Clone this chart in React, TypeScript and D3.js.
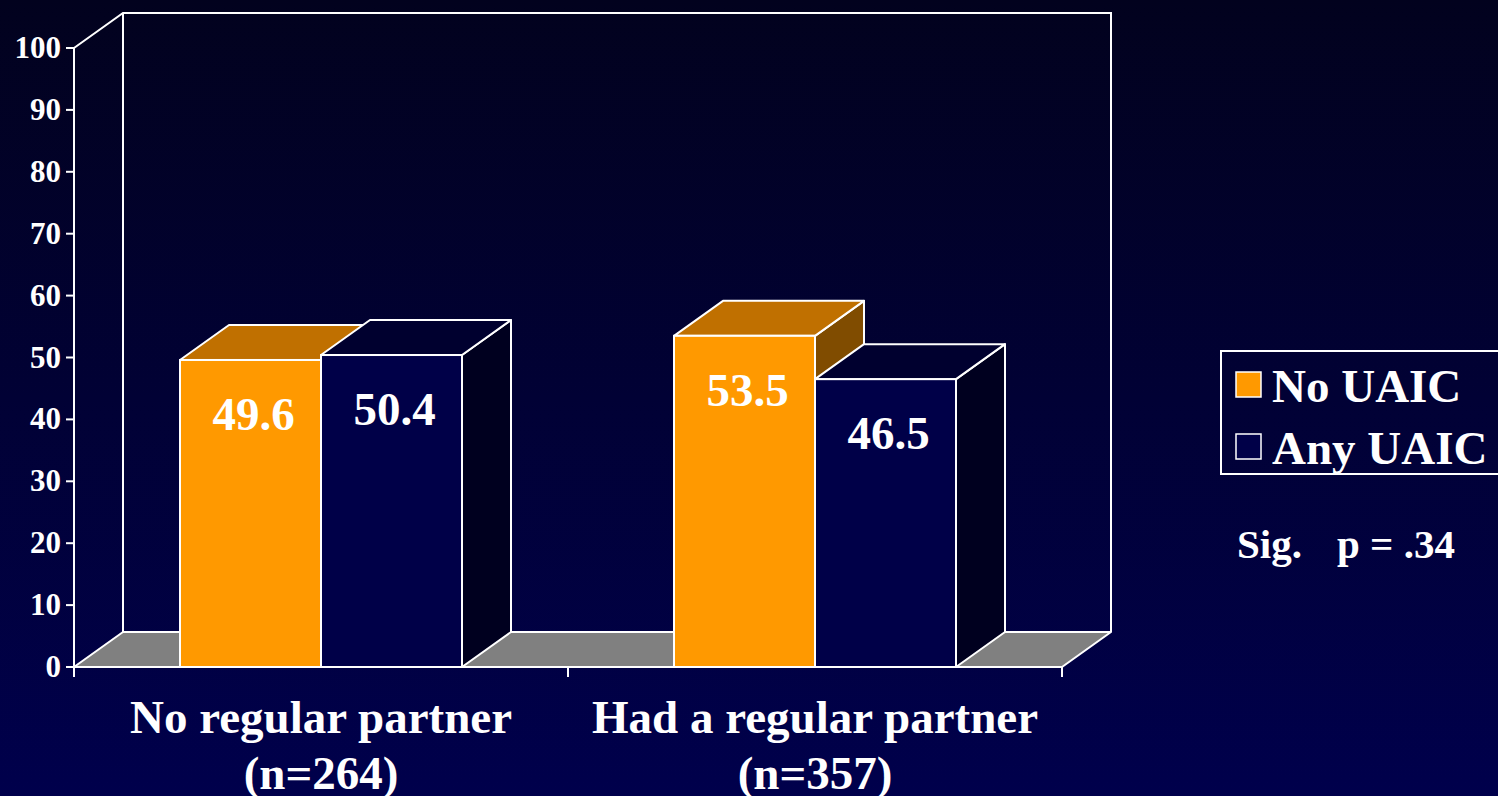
import React from "react";
import * as d3 from "d3";

const categories = ["No regular partner", "Had a regular partner"];
const categorySub = ["(n=264)", "(n=357)"];
const seriesNames = ["No UAIC", "Any UAIC"];
const noUAIC = [49.6, 53.5];
const anyUAIC = [50.4, 46.5];
const yTicks = [0, 10, 20, 30, 40, 50, 60, 70, 80, 90, 100];

const W = 1498, H = 796;
const FONT = "'Liberation Serif', 'Times New Roman', serif";
const DX = 49, DY = -35;

export default function App() {
  const x0 = 74, x1 = 1062;
  const y = d3.scaleLinear().domain([0, 100]).range([667, 48]);
  const band = d3.scaleBand().domain(categories).range([x0, x1]).paddingInner(0).paddingOuter(0);
  const bw = 141;
  const series = [
    { name: seriesNames[0], values: noUAIC, front: "#FF9900", top: "#C07000", side: "#804C00" },
    { name: seriesNames[1], values: anyUAIC, front: "#000048", top: "#00002F", side: "#00001F" },
  ];
  const stroke = "#ffffff";
  const sw = 2;
  const y0 = y(0);

  const bars: React.ReactNode[] = [];
  categories.forEach((c, ci) => {
    const cx = (band(c) as number) + band.bandwidth() / 2;
    series.forEach((s, si) => {
      const left = cx - bw + si * bw;
      const right = left + bw;
      const top = y(s.values[ci]);
      bars.push(
        <g key={`${ci}-${si}`}>
          <polygon points={`${right},${top} ${right + DX},${top + DY} ${right + DX},${y0 + DY} ${right},${y0}`} fill={s.side} stroke={stroke} strokeWidth={sw} strokeLinejoin="round" />
          <polygon points={`${left},${top} ${left + DX},${top + DY} ${right + DX},${top + DY} ${right},${top}`} fill={s.top} stroke={stroke} strokeWidth={sw} strokeLinejoin="round" />
          <rect x={left} y={top} width={bw} height={y0 - top} fill={s.front} stroke={stroke} strokeWidth={sw} />
        </g>
      );
    });
  });

  const labels: React.ReactNode[] = [];
  categories.forEach((c, ci) => {
    const cx = (band(c) as number) + band.bandwidth() / 2;
    series.forEach((s, si) => {
      const left = cx - bw + si * bw;
      const top = y(s.values[ci]);
      labels.push(
        <text key={`l${ci}-${si}`} x={left + bw / 2 + 3} y={top + 70} textAnchor="middle" fill="#fff" fontFamily={FONT} fontWeight="bold" fontSize={47}>
          {s.values[ci].toFixed(1)}
        </text>
      );
    });
  });

  const floorPts = (a: number, b: number) => `${a},${y0} ${a + DX},${y0 + DY} ${b + DX},${y0 + DY} ${b},${y0}`;

  return (
    <svg width={W} height={H} style={{ position: "absolute", left: 0, top: 0 }}>
      <defs>
        <linearGradient id="bg" x1="0" y1="0" x2="0" y2="1">
          <stop offset="0" stopColor="#02021E" />
          <stop offset="1" stopColor="#00004C" />
        </linearGradient>
      </defs>
      <rect x={0} y={0} width={W} height={H} fill="url(#bg)" />
      <polyline points={`${x0},${y(100)} ${x0 + DX},${y(100) + DY} ${x1 + DX},${y(100) + DY} ${x1 + DX},${y0 + DY}`} fill="none" stroke={stroke} strokeWidth={sw} />
      <line x1={x0 + DX} y1={y(100) + DY} x2={x0 + DX} y2={y0 + DY} stroke={stroke} strokeWidth={sw} />
      <polygon points={floorPts(x0, x1)} fill="#808080" stroke={stroke} strokeWidth={sw} strokeLinejoin="round" />
      {bars}
      <line x1={x0} y1={y(100)} x2={x0} y2={y0 + 10} stroke={stroke} strokeWidth={sw} />
      <line x1={x0} y1={y0} x2={x1} y2={y0} stroke={stroke} strokeWidth={sw} />
      {yTicks.map((t) => (
        <g key={t}>
          <line x1={x0 - 8} y1={y(t)} x2={x0} y2={y(t)} stroke={stroke} strokeWidth={sw} />
          <text x={x0 - 13} y={y(t) + 10} textAnchor="end" fill="#fff" fontFamily={FONT} fontWeight="bold" fontSize={31}>{t}</text>
        </g>
      ))}
      {categories.map((c) => {
        const bx = (band(c) as number) + band.bandwidth();
        return <line key={c} x1={bx} y1={y0} x2={bx} y2={y0 + 10} stroke={stroke} strokeWidth={sw} />;
      })}
      {labels}
      {categories.map((c, ci) => {
        const cx = (band(c) as number) + band.bandwidth() / 2;
        return (
          <g key={`c${ci}`}>
            <text x={cx} y={733} textAnchor="middle" fill="#fff" fontFamily={FONT} fontWeight="bold" fontSize={47}>{c}</text>
            <text x={cx} y={789} textAnchor="middle" fill="#fff" fontFamily={FONT} fontWeight="bold" fontSize={47}>{categorySub[ci]}</text>
          </g>
        );
      })}
      <rect x={1221} y={351} width={280} height={123} fill="none" stroke={stroke} strokeWidth={2} />
      <rect x={1236} y={372} width={25} height={25} fill="#FF9900" stroke="#fff" strokeWidth={1.5} />
      <text x={1272} y={402} fill="#fff" fontFamily={FONT} fontWeight="bold" fontSize={47}>{seriesNames[0]}</text>
      <rect x={1236} y={434} width={25} height={25} fill="#000048" stroke="#fff" strokeWidth={1.5} />
      <text x={1272} y={464} fill="#fff" fontFamily={FONT} fontWeight="bold" fontSize={47}>{seriesNames[1]}</text>
      <text x={1237} y={558} fill="#fff" fontFamily={FONT} fontWeight="bold" fontSize={41}>Sig.</text>
      <text x={1337} y={558} fill="#fff" fontFamily={FONT} fontWeight="bold" fontSize={41}>p = .34</text>
    </svg>
  );
}
